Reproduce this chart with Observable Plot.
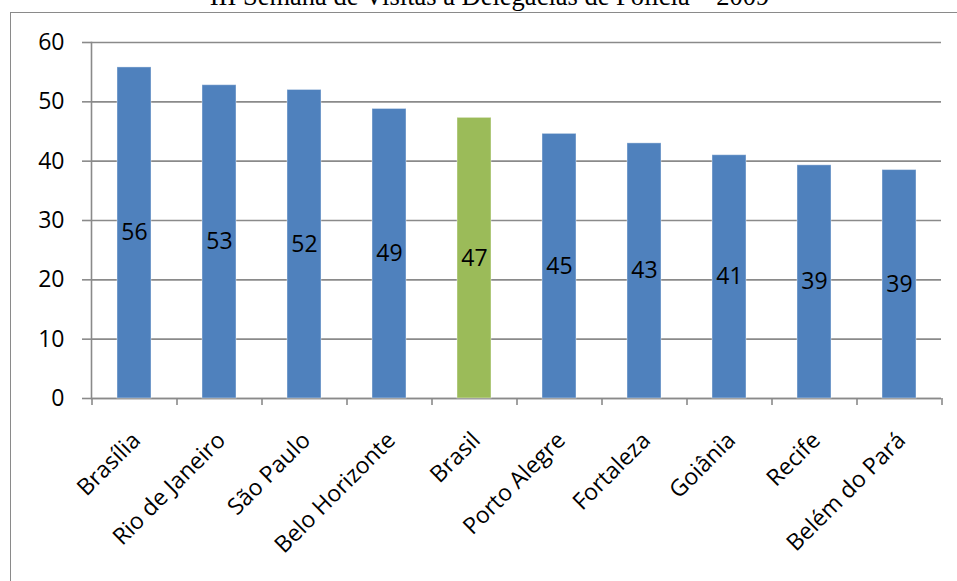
<!DOCTYPE html>
<html>
<head>
<meta charset="utf-8">
<script src="https://cdn.jsdelivr.net/npm/d3@7"></script>
<script src="https://cdn.jsdelivr.net/npm/@observablehq/plot@0.6"></script>
<style>
  html, body { margin: 0; padding: 0; background: #fff; }
  body { width: 957px; height: 581px; position: relative; overflow: hidden; }
  #border { position: absolute; left: 10px; top: 12px; width: 1200px; height: 900px;
            border-left: 1.5px solid #8a8a8a; border-top: 1.5px solid #8a8a8a; }
  #title { position: absolute; left: 11px; width: 957px; top: -17px; text-align: center;
           font-family: "Liberation Serif", "Times New Roman", serif; font-size: 26.5px;
           line-height: 26.5px; color: #000; white-space: nowrap; }
  #chart { position: absolute; left: 0; top: 0; }
</style>
</head>
<body>
<div id="border"></div>
<div id="title">III Semana de Visitas a Delegacias de Polícia – 2009</div>
<div id="chart"></div>
<script>
const cities = ["Brasília", "Rio de Janeiro", "São Paulo", "Belo Horizonte", "Brasil",
                "Porto Alegre", "Fortaleza", "Goiânia", "Recife", "Belém do Pará"];
const values = [55.8, 52.8, 52.0, 48.8, 47.3, 44.6, 43.0, 41.0, 39.3, 38.5];
const labels = ["56", "53", "52", "49", "47", "45", "43", "41", "39", "39"];
const highlight = "Brasil";
const yTicks = [0, 10, 20, 30, 40, 50, 60];

const data = cities.map((c, i) => ({city: c, value: values[i], label: labels[i]}));

const W = 957, H = 581, ML = 91, MR = 16, MT = 42, MB = 183;
const step = (W - ML - MR) / cities.length;
const font = "'Open Sans', sans-serif";
const fs = 23;
const gray = "#8a8a8a";

const chart = Plot.plot({
  width: W, height: H,
  marginLeft: ML, marginRight: MR, marginTop: MT, marginBottom: MB,
  style: {fontFamily: font, fontSize: fs + "px", color: "#000", background: "transparent"},
  x: {type: "band", domain: cities, paddingInner: 0.6, paddingOuter: 0.3, axis: null},
  y: {domain: [0, 60], axis: null},
  marks: [
    Plot.gridY(yTicks, {stroke: gray, strokeOpacity: 1, strokeWidth: 1.6}),
    Plot.axisY(yTicks, {tickSize: 9, tickPadding: 18, stroke: gray, strokeWidth: 1.6,
                        fill: "#000", fontSize: fs, label: null}),
    Plot.frame({anchor: "left", stroke: gray, strokeWidth: 1.6}),
    Plot.ruleY([0], {stroke: gray, strokeWidth: 1.6}),
    Plot.ruleX(cities, {x: d => d, dx: -step / 2, y1: 0, y2: -1.2, stroke: gray, strokeWidth: 1.6}),
    Plot.ruleX(cities.slice(-1), {x: d => d, dx: step / 2, y1: 0, y2: -1.2, stroke: gray, strokeWidth: 1.6}),
    Plot.barY(data, {x: "city", y: "value",
                     fill: d => d.city === highlight ? "#9BBB59" : "#4F81BD",
                     stroke: "#fff", strokeOpacity: 0.4, strokeWidth: 1}),
    Plot.text(data, {x: "city", y: d => d.value / 2, text: "label", fill: "#000",
                     fontSize: fs, lineAnchor: "middle"}),
    Plot.text(cities, {x: d => d, y: 0, text: d => d, rotate: -45, textAnchor: "end",
                       lineAnchor: "middle", dx: 2, dy: 38, fill: "#000", fontSize: fs})
  ]
});
document.getElementById("chart").appendChild(chart);
</script>
</body>
</html>
